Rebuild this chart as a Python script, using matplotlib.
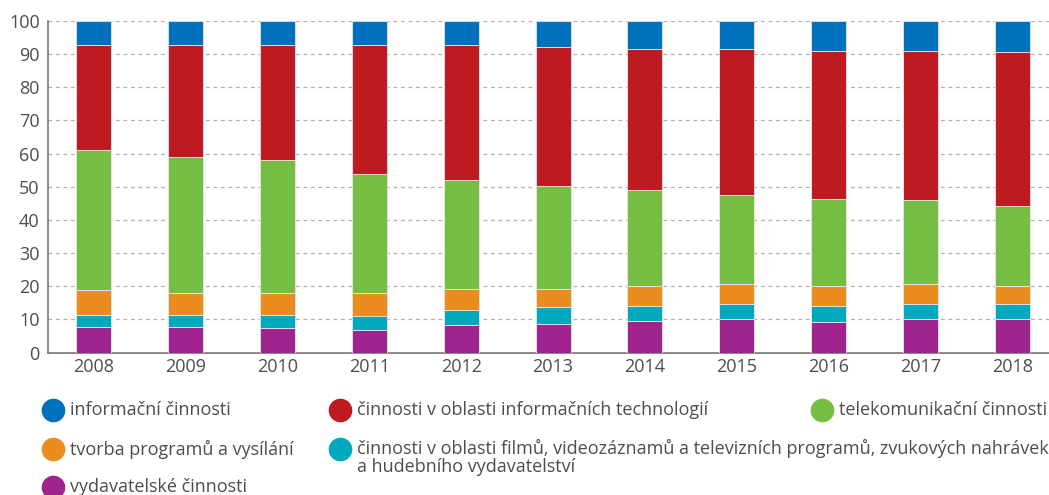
import matplotlib.pyplot as plt
from matplotlib.lines import Line2D
import numpy as np

# %% Data (shares in %)
years = ["2008", "2009", "2010", "2011", "2012", "2013", "2014", "2015", "2016", "2017", "2018"]

vydavatelske = [7.8, 7.8, 7.4, 6.9, 8.3, 8.7, 9.6, 10.1, 9.2, 10.1, 10.1]
filmy = [3.6, 3.6, 4.0, 4.0, 4.4, 5.0, 4.5, 4.4, 4.9, 4.4, 4.4]
tvorba = [7.4, 6.5, 6.5, 7.0, 6.6, 5.6, 6.1, 6.1, 6.1, 6.1, 5.7]
telekom = [42.4, 41.1, 40.2, 36.0, 32.8, 31.0, 28.7, 27.0, 26.1, 25.3, 24.0]
it = [31.5, 33.7, 34.6, 38.8, 40.6, 41.9, 42.6, 43.9, 44.6, 45.0, 46.3]
informacni = [7.3, 7.3, 7.3, 7.3, 7.3, 7.8, 8.5, 8.5, 9.1, 9.1, 9.5]

labels = [
    "vydavatelské činnosti",
    "činnosti v oblasti filmů, videozáznamů a televizních programů, zvukových nahrávek\na hudebního vydavatelství",
    "tvorba programů a vysílání",
    "telekomunikační činnosti",
    "činnosti v oblasti informačních technologií",
    "informační činnosti",
]
series = [vydavatelske, filmy, tvorba, telekom, it, informacni]
colors = ["#a0248e", "#02a9bc", "#eb8c1e", "#76be43", "#bd1a21", "#0071bc"]

# %% Style
plt.rcParams['font.family'] = ['Liberation Sans Narrow', 'Open Sans', 'DejaVu Sans']
text_color = "#4d4d4d"

fig = plt.figure(figsize=(10.49, 4.95), dpi=100)
ax = fig.add_axes([48 / 1049, 142.5 / 495, 1001 / 1049, 331.5 / 495])

x = np.arange(len(years))
bottom = np.zeros(len(years))
for vals, col in zip(series, colors):
    ax.bar(x, vals, bottom=bottom, width=0.38, color=col,
           edgecolor="#e8e8e8", linewidth=0.6, zorder=3)
    bottom += np.array(vals)

ax.set_ylim(0, 100)
ax.set_xlim(-0.5, 10.4)
ax.set_yticks(range(0, 101, 10))
ax.set_xticks(x)
ax.set_xticklabels(years)
ax.yaxis.grid(True, linestyle=(0, (3, 3)), color="#b0b0b0", linewidth=0.9, zorder=0)
ax.tick_params(axis="both", length=0, labelsize=13, colors=text_color)
ax.tick_params(axis="y", pad=6)
ax.tick_params(axis="x", pad=4)
for s in ["top", "right"]:
    ax.spines[s].set_visible(False)
ax.spines["left"].set_color("#777777")
ax.spines["bottom"].set_color("#777777")
ax.spines["left"].set_linewidth(1.2)
ax.spines["bottom"].set_linewidth(1.2)

# %% Legend drawn by hand, row-major like the original
legend_pos = [
    # (series index, marker x px, y px)
    (5, 53, 410),
    (4, 340, 410),
    (3, 822, 410),
    (2, 53, 449),
    (1, 340, 449),
    (0, 53, 487),
]
W, H = 1049, 495
for idx, mx, my in legend_pos:
    fig.add_artist(Line2D([mx / W], [1 - my / H], marker="o", markersize=16,
                          color=colors[idx], linestyle="none",
                          transform=fig.transFigure))
    multi = "\n" in labels[idx]
    ty = 1 - (my - 10) / H if multi else 1 - my / H
    fig.text((mx + 17) / W, ty, labels[idx], color=text_color,
             fontsize=13, va="top" if multi else "center",
             ha="left", linespacing=1.0)

fig.savefig("out.png", dpi=100)
